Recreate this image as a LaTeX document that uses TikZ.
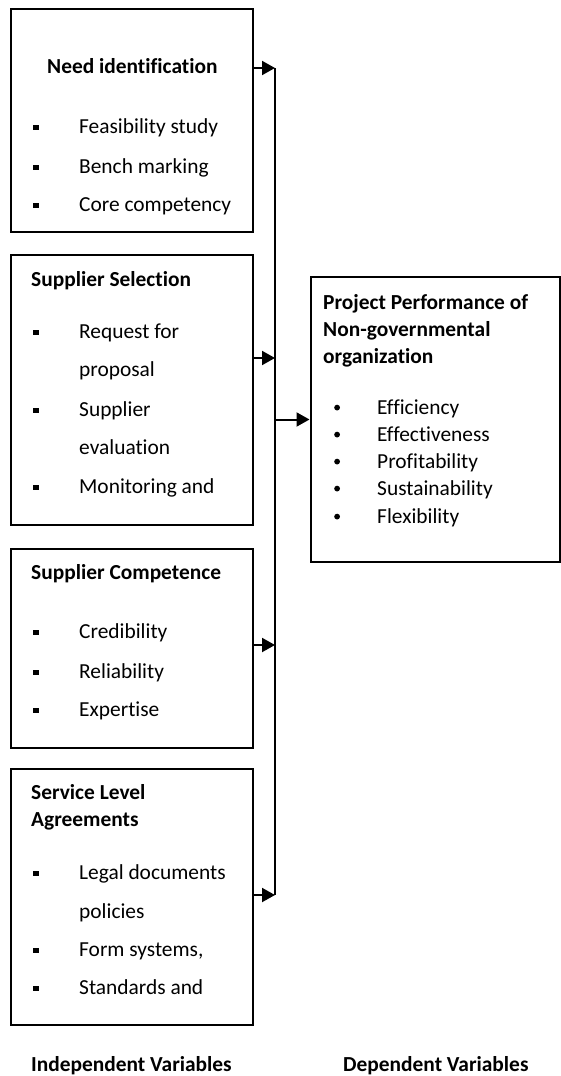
\documentclass[tikz,border=0pt]{standalone}
\usepackage{fontspec}
\setmainfont[Ligatures={NoCommon,NoContextual}]{Carlito}
\usetikzlibrary{arrows.meta}
\newcommand{\sqb}{\makebox[46pt][l]{\raisebox{3pt}{\rule{5.5pt}{5.5pt}}}}
\newcommand{\rdb}{\makebox[43pt][l]{\raisebox{3.5pt}{\tikz\fill (0,0) circle (2.9pt);}}}
\begin{document}
\begin{tikzpicture}[x=1pt,y=-1pt,
  box/.style={draw, line width=2pt, inner sep=0pt},
  txt/.style={anchor=base west, inner sep=0pt, font=\fontsize{21.4}{25}\selectfont},
  ttl/.style={txt, font=\fontsize{21.4}{25}\selectfont\bfseries},
  arr/.style={line width=2pt, -{Triangle[length=13pt,width=14pt]}},
  bus/.style={line width=2pt}]
\useasboundingbox (0,0) rectangle (561,1076);
% boxes
\node[box, minimum width=242pt, minimum height=223pt] (b1) at (132,120.5) {};
\node[box, minimum width=242pt, minimum height=270pt] (b2) at (132,390) {};
\node[box, minimum width=242pt, minimum height=199pt] (b3) at (132,648.5) {};
\node[box, minimum width=242pt, minimum height=256pt] (b4) at (132,897) {};
\node[box, minimum width=249pt, minimum height=285pt] (r) at (435,419.5) {};
% box 1 text
\node[ttl] (t1) at (47,73) {Need identification};
\node[txt] (i11) at (33,133) {\sqb Feasibility study};
\node[txt] (i12) at (33,173) {\sqb Bench marking};
\node[txt] (i13) at (33,211) {\sqb Core competency};
% box 2 text
\node[ttl] (t2) at (31,286) {Supplier Selection};
\node[txt] (i21) at (33,338) {\sqb Request for};
\node[txt] (i22) at (79,376) {proposal};
\node[txt] (i23) at (33,416) {\sqb Supplier};
\node[txt] (i24) at (79,454) {evaluation};
\node[txt] (i25) at (33,493) {\sqb Monitoring and};
% box 3 text
\node[ttl] (t3) at (31,579) {Supplier Competence};
\node[txt] (i31) at (33,638) {\sqb Credibility};
\node[txt] (i32) at (33,678) {\sqb Reliability};
\node[txt] (i33) at (33,716) {\sqb Expertise};
% box 4 text
\node[ttl] (t4a) at (31,799) {Service Level};
\node[ttl] (t4b) at (31,826) {Agreements};
\node[txt] (i41) at (33,879) {\sqb Legal documents};
\node[txt] (i42) at (79,918) {policies};
\node[txt] (i43) at (33,956) {\sqb Form systems,};
\node[txt] (i44) at (33,994) {\sqb Standards and};
% right box text
\node[ttl] (tr1) at (323,309) {Project Performance of};
\node[ttl] (tr2) at (323,336) {Non-governmental};
\node[ttl] (tr3) at (323,363) {organization};
\node[txt] (ir1) at (334,414) {\rdb Efficiency};
\node[txt] (ir2) at (334,441) {\rdb Effectiveness};
\node[txt] (ir3) at (334,468) {\rdb Profitability};
\node[txt] (ir4) at (334,495) {\rdb Sustainability};
\node[txt] (ir5) at (334,523) {\rdb Flexibility};
% bottom labels
\node[ttl] (lind) at (31,1071) {Independent Variables};
\node[ttl] (ldep) at (343,1071) {Dependent Variables};
% connectors
\coordinate (j1) at (275,68);
\coordinate (j2) at (275,358);
\coordinate (jr) at (275,419.5);
\coordinate (j3) at (275,645);
\coordinate (j4) at (275,895);
\draw[bus] (j1) -- (j4);
\draw[arr] (b1.east |- j1) -- (j1);
\draw[arr] (b2.east |- j2) -- (j2);
\draw[arr] (b3.east |- j3) -- (j3);
\draw[arr] (b4.east |- j4) -- (j4);
\draw[arr] (jr) -- (r.west);
\end{tikzpicture}
\end{document}
